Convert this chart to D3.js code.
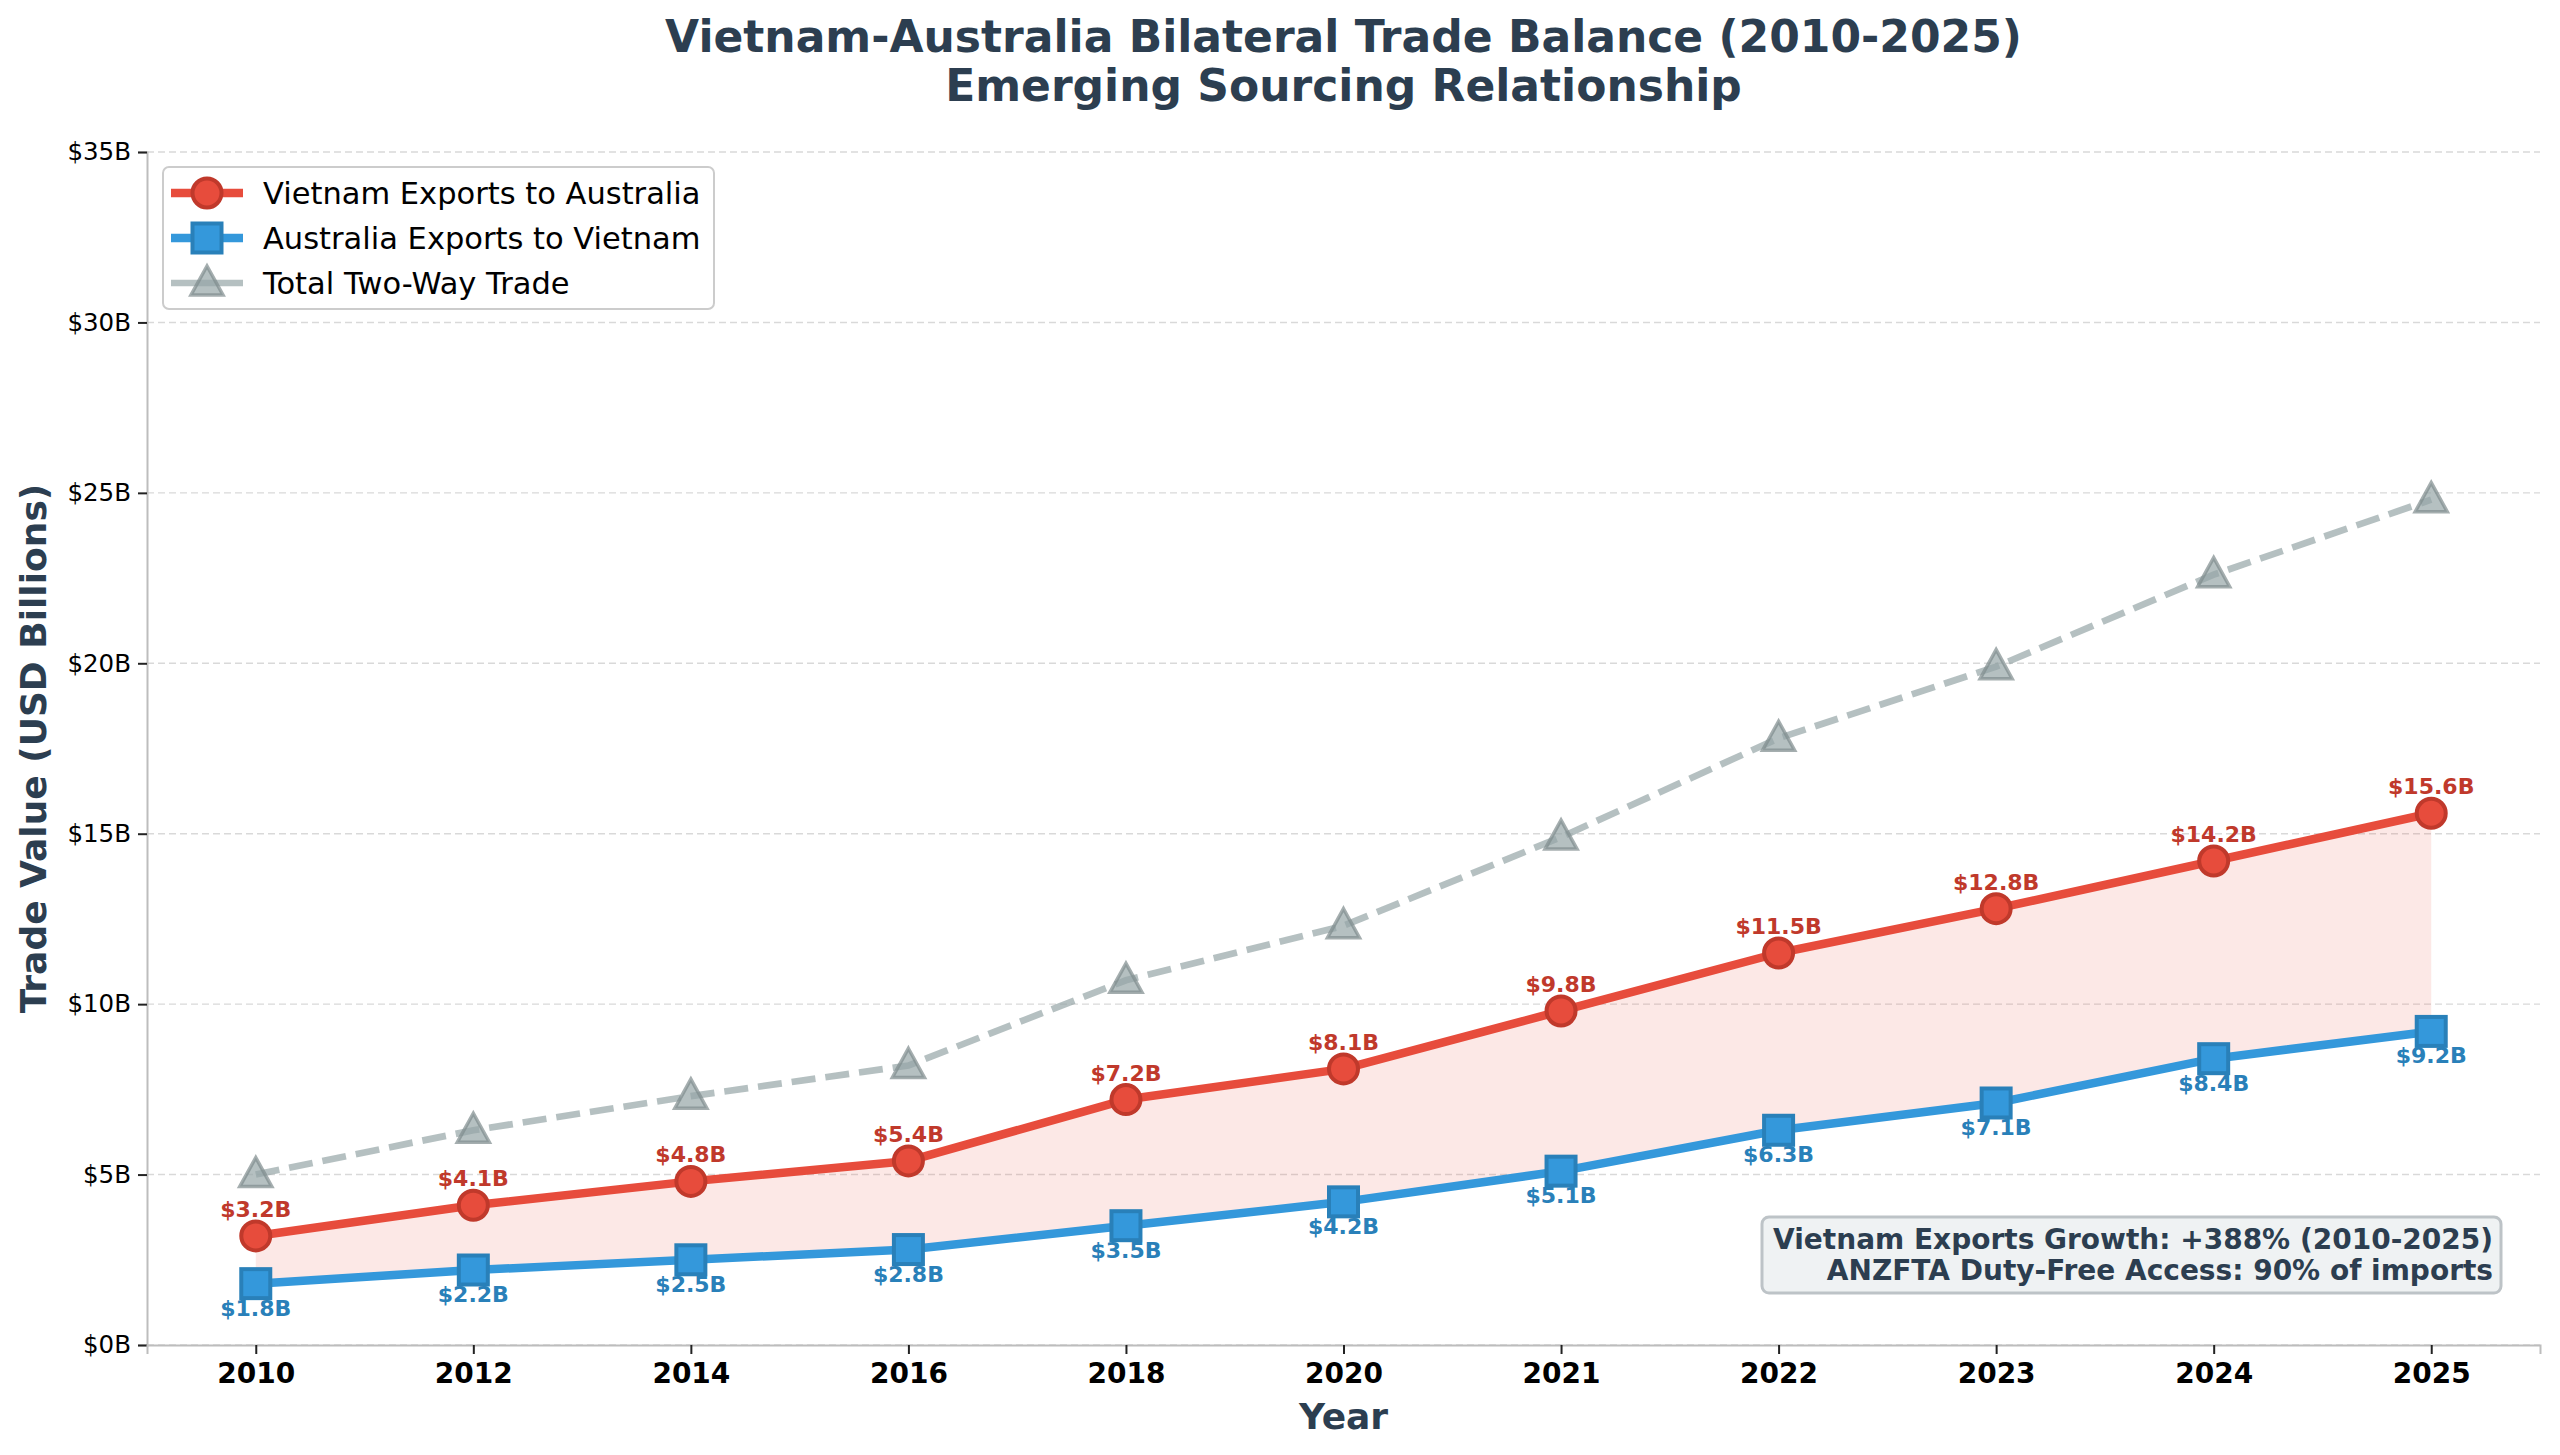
<!DOCTYPE html>
<html>
<head>
<meta charset="utf-8">
<script src="https://cdn.jsdelivr.net/npm/d3@7"></script>
<style>
  html, body { margin: 0; padding: 0; background: #fff; }
  svg { display: block; font-family: "DejaVu Sans", sans-serif; }
</style>
</head>
<body>
<svg id="chart" width="2560" height="1455"></svg>
<script>
// data
var years = ["2010", "2012", "2014", "2016", "2018", "2020", "2021", "2022", "2023", "2024", "2025"];
var vnExports = [3.2, 4.1, 4.8, 5.4, 7.2, 8.1, 9.8, 11.5, 12.8, 14.2, 15.6];
var auExports = [1.8, 2.2, 2.5, 2.8, 3.5, 4.2, 5.1, 6.3, 7.1, 8.4, 9.2];
var totalTrade = [5.0, 6.3, 7.3, 8.2, 10.7, 12.3, 14.9, 17.8, 19.9, 22.6, 24.8];
var yTicks = [0, 5, 10, 15, 20, 25, 30, 35];
var seriesNames = ["Vietnam Exports to Australia", "Australia Exports to Vietnam", "Total Two-Way Trade"];
var noteLines = ["Vietnam Exports Growth: +388% (2010-2025)", "ANZFTA Duty-Free Access: 90% of imports"];

var svg = d3.select("#chart"),
	plotL = 147, plotR = 2540, plotT = 152, plotB = 1345;

var x = d3.scaleLinear().domain([-0.5, years.length - 0.5]).range([plotL, plotR]);
var y = d3.scaleLinear().domain([0, 35]).range([plotB, plotT]);

var rows = years.map(function(d, i){
	return {i: i, year: d, vn: vnExports[i], au: auExports[i], total: totalTrade[i]};
});

// grid
svg.append("g").selectAll("line").data(yTicks).join("line")
	.attr("x1", plotL).attr("x2", plotR)
	.attr("y1", function(d){ return y(d); }).attr("y2", function(d){ return y(d); })
	.attr("stroke", "#d9d9d9").attr("stroke-width", 1.4)
	.attr("stroke-dasharray", "7,4");

// fill between the two export series
var area = d3.area()
	.x(function(d){ return x(d.i); })
	.y0(function(d){ return y(d.au); })
	.y1(function(d){ return y(d.vn); });
svg.append("path").datum(rows).attr("d", area)
	.attr("fill", "#e74c3c").attr("fill-opacity", 0.13);

function lineOf(key){
	return d3.line().x(function(d){ return x(d.i); }).y(function(d){ return y(d[key]); });
}

// total (dashed grey)
svg.append("path").datum(rows).attr("d", lineOf("total"))
	.attr("fill", "none").attr("stroke", "#95a5a6").attr("stroke-opacity", 0.7)
	.attr("stroke-width", 6.7).attr("stroke-dasharray", "24,10");

svg.append("path").datum(rows).attr("d", lineOf("au"))
	.attr("fill", "none").attr("stroke", "#3498db").attr("stroke-width", 8.5)
	.attr("stroke-linejoin", "round");

svg.append("path").datum(rows).attr("d", lineOf("vn"))
	.attr("fill", "none").attr("stroke", "#e74c3c").attr("stroke-width", 8.5)
	.attr("stroke-linejoin", "round");

var triPath = "M0,-17 L16,12 L-16,12 Z";

function drawTriangle(g){
	g.append("path").attr("d", triPath)
		.attr("fill", "#95a5a6").attr("fill-opacity", 0.7)
		.attr("stroke", "#7f8c8d").attr("stroke-opacity", 0.7).attr("stroke-width", 3.5);
}
function drawCircle(g){
	g.append("circle").attr("r", 14.5)
		.attr("fill", "#e74c3c").attr("stroke", "#c0392b").attr("stroke-width", 4);
}
function drawSquare(g){
	g.append("rect").attr("x", -14.5).attr("y", -14.5).attr("width", 29).attr("height", 29)
		.attr("fill", "#3498db").attr("stroke", "#2980b9").attr("stroke-width", 4);
}

svg.append("g").selectAll("g").data(rows).join("g")
	.attr("transform", function(d){ return "translate(" + x(d.i) + "," + y(d.total) + ")"; })
	.each(function(){ drawTriangle(d3.select(this)); });

svg.append("g").selectAll("g").data(rows).join("g")
	.attr("transform", function(d){ return "translate(" + x(d.i) + "," + y(d.au) + ")"; })
	.each(function(){ drawSquare(d3.select(this)); });

svg.append("g").selectAll("g").data(rows).join("g")
	.attr("transform", function(d){ return "translate(" + x(d.i) + "," + y(d.vn) + ")"; })
	.each(function(){ drawCircle(d3.select(this)); });

// value labels
svg.append("g").selectAll("text").data(rows).join("text")
	.attr("x", function(d){ return x(d.i); })
	.attr("y", function(d){ return y(d.vn) - 19; })
	.attr("text-anchor", "middle")
	.attr("font-size", 22).attr("font-weight", "bold").attr("fill", "#c0392b")
	.text(function(d){ return "$" + d.vn.toFixed(1) + "B"; });

svg.append("g").selectAll("text").data(rows).join("text")
	.attr("x", function(d){ return x(d.i); })
	.attr("y", function(d){ return y(d.au) + 32; })
	.attr("text-anchor", "middle")
	.attr("font-size", 22).attr("font-weight", "bold").attr("fill", "#2980b9")
	.text(function(d){ return "$" + d.au.toFixed(1) + "B"; });

// axes
var yAxis = d3.axisLeft(y).tickValues(yTicks).tickSize(9).tickPadding(7)
	.tickFormat(function(d){ return "$" + d + "B"; });
var gy = svg.append("g").attr("transform", "translate(" + plotL + ",0)").call(yAxis);
gy.select(".domain").attr("stroke", "#bdbdbd").attr("stroke-width", 2);
gy.selectAll(".tick line").attr("stroke", "#222").attr("stroke-width", 2);
gy.selectAll(".tick text").attr("font-size", 24.5).attr("fill", "#000")
	.attr("font-family", "DejaVu Sans");

var xAxis = d3.axisBottom(x).tickValues(d3.range(years.length)).tickSize(9).tickPadding(9)
	.tickFormat(function(d){ return years[d]; });
var gx = svg.append("g").attr("transform", "translate(0," + plotB + ")").call(xAxis);
gx.select(".domain").attr("stroke", "#bdbdbd").attr("stroke-width", 2);
gx.selectAll(".tick line").attr("stroke", "#222").attr("stroke-width", 2);
gx.selectAll(".tick text").attr("font-size", 28).attr("font-weight", "bold").attr("fill", "#000")
	.attr("font-family", "DejaVu Sans");

// axis titles
svg.append("text").attr("x", (plotL + plotR) / 2).attr("y", 1429)
	.attr("text-anchor", "middle").attr("font-size", 36).attr("font-weight", "bold")
	.attr("fill", "#2c3e50").text("Year");
svg.append("text").attr("transform", "translate(46," + (plotT + plotB) / 2 + ") rotate(-90)")
	.attr("text-anchor", "middle").attr("font-size", 36).attr("font-weight", "bold")
	.attr("fill", "#2c3e50").text("Trade Value (USD Billions)");

// title
svg.append("text").attr("x", (plotL + plotR) / 2).attr("y", 52)
	.attr("text-anchor", "middle").attr("font-size", 44).attr("font-weight", "bold")
	.attr("fill", "#2c3e50").text("Vietnam-Australia Bilateral Trade Balance (2010-2025)");
svg.append("text").attr("x", (plotL + plotR) / 2).attr("y", 101)
	.attr("text-anchor", "middle").attr("font-size", 44).attr("font-weight", "bold")
	.attr("fill", "#2c3e50").text("Emerging Sourcing Relationship");

// legend
var legend = svg.append("g").attr("transform", "translate(163,167)");
legend.append("rect").attr("width", 551).attr("height", 142).attr("rx", 6)
	.attr("fill", "#fff").attr("fill-opacity", 0.9).attr("stroke", "#cccccc").attr("stroke-width", 2);
var legendRows = [
	{name: seriesNames[0], color: "#e74c3c", width: 8.5, marker: drawCircle},
	{name: seriesNames[1], color: "#3498db", width: 8.5, marker: drawSquare},
	{name: seriesNames[2], color: "#95a5a6", width: 6.7, marker: drawTriangle}
];
legendRows.forEach(function(r, i){
	var g = legend.append("g").attr("transform", "translate(0," + (26 + i * 45) + ")");
	g.append("line").attr("x1", 8).attr("x2", 80)
		.attr("stroke", r.color).attr("stroke-width", r.width)
		.attr("stroke-opacity", i == 2 ? 0.7 : 1);
	var m = g.append("g").attr("transform", "translate(44,0)");
	r.marker(m);
	g.append("text").attr("x", 100).attr("y", 11).attr("font-size", 30.5).attr("fill", "#000")
		.text(r.name);
});

// note box
var note = svg.append("g");
note.append("rect").attr("x", 1762).attr("y", 1217).attr("width", 739).attr("height", 76).attr("rx", 7)
	.attr("fill", "#ecf0f1").attr("fill-opacity", 0.85).attr("stroke", "#bdc3c7").attr("stroke-width", 3);
noteLines.forEach(function(t, i){
	note.append("text").attr("x", 2493).attr("y", 1249 + i * 31)
		.attr("text-anchor", "end").attr("font-size", 28).attr("font-weight", "bold")
		.attr("fill", "#2c3e50").text(t);
});
</script>
</body>
</html>
